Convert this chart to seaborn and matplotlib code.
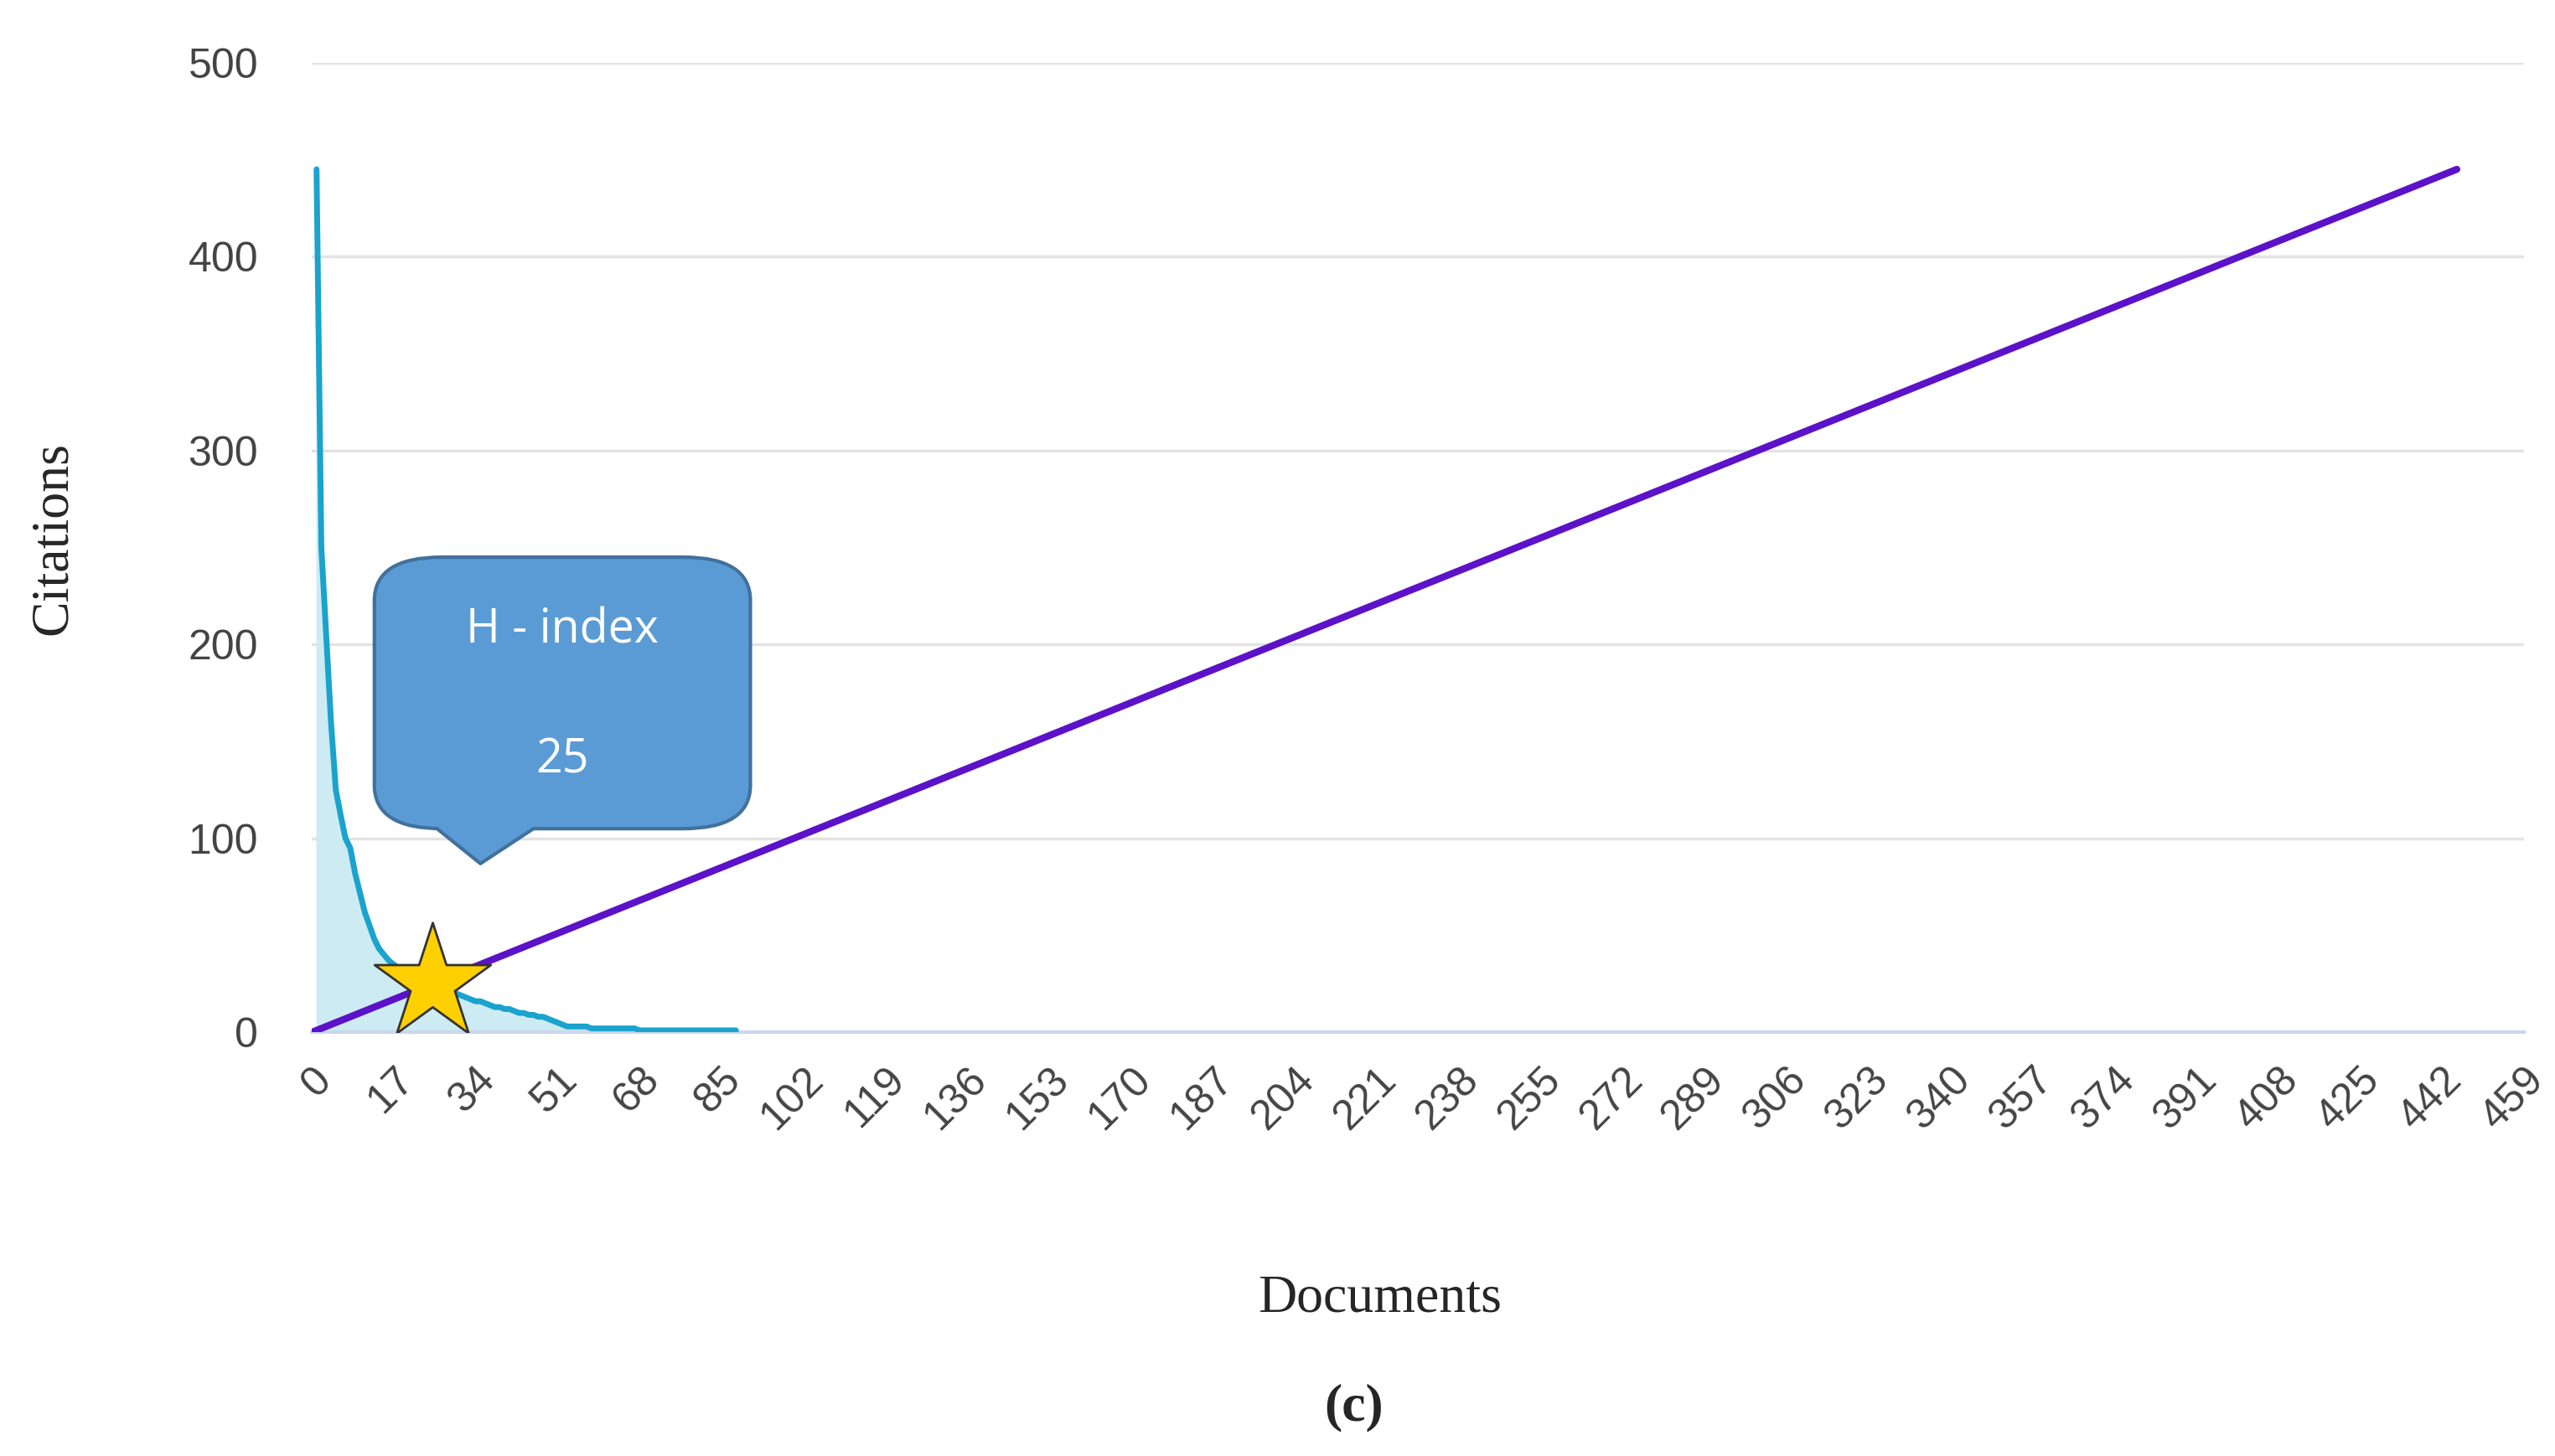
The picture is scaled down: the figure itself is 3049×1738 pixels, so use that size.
import matplotlib
matplotlib.use("Agg")
import matplotlib.pyplot as plt
import seaborn as sns
import numpy as np
import pandas as pd
from matplotlib.patches import FancyBboxPatch, Polygon

citations = [445, 250, 205, 160, 125, 112, 100, 95, 82, 72, 62, 55, 48, 43, 40, 37, 35, 33, 31, 30,
             29, 28, 27, 26, 25, 23, 22, 21, 20, 20, 19, 18, 17, 16, 16, 15, 14, 13, 13, 12,
             12, 11, 10, 10, 9, 9, 8, 8, 7, 6, 5, 4, 3, 3, 3, 3, 3, 2, 2, 2,
             2, 2, 2, 2, 2, 2, 2, 1, 1, 1, 1, 1, 1, 1, 1, 1, 1, 1, 1, 1,
             1, 1, 1, 1, 1, 1, 1, 1]
documents = list(range(1, len(citations) + 1))
diag_x = [0, 445]
diag_y = [0, 445]
h_index = 25
xticks = list(range(0, 460, 17))
yticks = [0, 100, 200, 300, 400, 500]

sns.set_theme(style="whitegrid")
fig = plt.figure(figsize=(30.49, 17.38), dpi=100)
ax = fig.add_axes([0.122, 0.291, 0.866, 0.666])

df = pd.DataFrame({"Documents": documents, "Citations": citations})
ax.fill_between(df["Documents"], df["Citations"], color="#cdebf3", zorder=1)
sns.lineplot(data=df, x="Documents", y="Citations", ax=ax, color="#1aa3cc", linewidth=5, zorder=3)
sns.lineplot(x=diag_x, y=diag_y, ax=ax, color="#5b12c8", linewidth=6, zorder=4)
ax.scatter([h_index], [h_index], marker="*", s=11000, color="#ffd000", edgecolor="#333333",
           linewidth=2, zorder=6)

# callout
box = FancyBboxPatch((13, 105), 78, 140, boxstyle="round,pad=0,rounding_size=14",
                     mutation_aspect=1.6, facecolor="#5b9bd5", edgecolor="#41719c", linewidth=3, zorder=7)
ax.add_patch(box)
tail = Polygon([[26, 106], [35, 87], [46, 106]], closed=True, facecolor="#5b9bd5",
               edgecolor="none", zorder=8)
ax.add_patch(tail)
ax.plot([26, 35, 46], [105, 87, 105], color="#41719c", linewidth=3, zorder=8)
ax.text(52, 207, "H - index", color="white", fontsize=40, ha="center", va="center",
        family="Open Sans", zorder=9)
ax.text(52, 140, "25", color="white", fontsize=40, ha="center", va="center",
        family="Open Sans", zorder=9)

ax.set_xlim(0, 459)
ax.set_ylim(0, 500)
ax.set_xticks(xticks)
ax.set_xticklabels([str(t) for t in xticks], rotation=45, ha="right", rotation_mode="anchor",
                   fontsize=36, color="#444444", family="Liberation Sans")
ax.set_yticks(yticks)
ax.set_yticklabels([str(t) for t in yticks], fontsize=36, color="#444444", family="Liberation Sans")
ax.tick_params(axis="x", pad=18)
ax.tick_params(axis="y", pad=40)
ax.grid(axis="x", visible=False)
ax.grid(axis="y", color="#e3e3e3", linewidth=2.5)
for s in ["top", "right", "left"]:
    ax.spines[s].set_visible(False)
ax.spines["bottom"].set_color("#ccd6eb")
ax.spines["bottom"].set_linewidth(3)
ax.set_xlabel("")
ax.set_ylabel("")

fig.text(0.021, 0.63, "Citations", rotation=90, fontsize=46, family="Liberation Serif",
         ha="center", va="center")
fig.text(0.54, 0.108, "Documents", fontsize=46, family="Liberation Serif",
         ha="center", va="center")
fig.text(0.53, 0.033, "(c)", fontsize=46, family="Liberation Serif", fontweight="bold",
         ha="center", va="center")
fig.savefig("out.png", dpi=100, facecolor="white")
